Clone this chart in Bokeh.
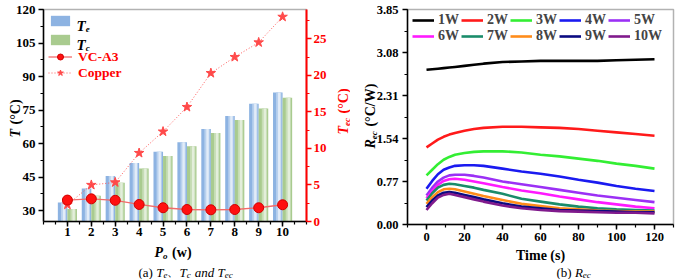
import math
from bokeh.plotting import figure
from bokeh.models import (Range1d, LinearAxis, FixedTicker, Label, Legend, LegendItem,
                          NumeralTickFormatter, BoxAnnotation)
from bokeh.layouts import row
from bokeh.embed import file_html
from bokeh.resources import INLINE

# ---------------- data: (a) ----------------
power_w = [1, 2, 3, 4, 5, 6, 7, 8, 9, 10]
te_c = [33.7, 40.0, 45.5, 51.4, 56.4, 60.6, 66.6, 72.4, 77.8, 82.9]
tc_c = [30.8, 36.7, 42.5, 48.9, 54.5, 58.8, 64.8, 70.6, 75.7, 80.5]
tec_vc_a3 = [2.93, 3.10, 2.90, 2.33, 1.88, 1.64, 1.60, 1.64, 1.88, 2.29]
tec_copper = [2.30, 5.00, 5.35, 9.37, 12.30, 15.66, 20.30, 22.50, 24.50, 28.00]
t_ticks = [30, 45, 60, 75, 90, 105, 120]
tec_ticks = [0, 5, 10, 15, 20, 25]

# ---------------- data: (b) ----------------
time_s = [0, 3, 6, 9, 12, 15, 20, 25, 30, 40, 50, 60, 70, 80, 90, 100, 110, 120]
rec_1w = [2.77, 2.78, 2.79, 2.80, 2.81, 2.82, 2.84, 2.86, 2.88, 2.91, 2.92, 2.93, 2.93, 2.93, 2.93, 2.94, 2.95, 2.96]
rec_2w = [1.38, 1.45, 1.52, 1.57, 1.61, 1.64, 1.68, 1.71, 1.73, 1.75, 1.75, 1.74, 1.73, 1.71, 1.68, 1.65, 1.62, 1.59]
rec_3w = [0.88, 0.98, 1.08, 1.16, 1.21, 1.25, 1.28, 1.30, 1.31, 1.31, 1.29, 1.25, 1.22, 1.18, 1.14, 1.09, 1.05, 1.00]
rec_4w = [0.64, 0.78, 0.90, 0.98, 1.02, 1.05, 1.06, 1.06, 1.05, 1.00, 0.95, 0.91, 0.86, 0.80, 0.75, 0.69, 0.64, 0.60]
rec_5w = [0.52, 0.66, 0.77, 0.84, 0.88, 0.89, 0.89, 0.87, 0.84, 0.77, 0.72, 0.67, 0.62, 0.57, 0.52, 0.48, 0.44, 0.40]
rec_6w = [0.47, 0.60, 0.71, 0.78, 0.81, 0.82, 0.80, 0.77, 0.74, 0.67, 0.61, 0.56, 0.50, 0.45, 0.40, 0.36, 0.32, 0.29]
rec_7w = [0.43, 0.56, 0.66, 0.71, 0.73, 0.72, 0.69, 0.66, 0.62, 0.55, 0.46, 0.41, 0.36, 0.32, 0.29, 0.27, 0.26, 0.25]
rec_8w = [0.37, 0.49, 0.58, 0.63, 0.64, 0.63, 0.59, 0.55, 0.51, 0.44, 0.37, 0.33, 0.29, 0.27, 0.25, 0.24, 0.23, 0.23]
rec_9w = [0.31, 0.43, 0.52, 0.57, 0.58, 0.57, 0.53, 0.49, 0.45, 0.38, 0.32, 0.29, 0.26, 0.25, 0.24, 0.23, 0.22, 0.22]
rec_10w = [0.26, 0.38, 0.48, 0.53, 0.55, 0.53, 0.49, 0.45, 0.41, 0.34, 0.29, 0.26, 0.24, 0.23, 0.22, 0.21, 0.21, 0.20]
rec_series = [("1W", rec_1w), ("2W", rec_2w), ("3W", rec_3w), ("4W", rec_4w), ("5W", rec_5w),
              ("6W", rec_6w), ("7W", rec_7w), ("8W", rec_8w), ("9W", rec_9w), ("10W", rec_10w)]
rec_colors = ["#000000", "#FF1A1A", "#33EE33", "#1A1AF0", "#9B30F5",
              "#FF1AFF", "#1A8C6A", "#FF8C1A", "#0A0A80", "#801A8C"]
rec_ticks = [0.00, 0.77, 1.54, 2.31, 3.08, 3.85]
time_ticks = [0, 20, 40, 60, 80, 100, 120]

FONT = "Liberation Serif"
H = 279

# approximate Times advance widths (em)
W_REG = {'(': .333, ')': .333, 'a': .444, 'b': .5, ' ': .25, '、': 1.0}
W_BOLD = {'(': .333, ')': .333, '°': .4, 'C': .722, '/': .278, 'W': 1.0, 'w': .722, ' ': .25,
          's': .389, 'T': .667, 'i': .278, 'm': .833, 'e': .444}
W_BI = {'T': .611, 'P': .611, 'R': .667, 'e': .444, 'c': .444, 'o': .5}
W_IT = {'T': .556, 'e': .444, 'c': .444, 'a': .5, 'n': .5, 'd': .5, 'R': .611, ' ': .25}
TABLES = {"normal": W_REG, "bold": W_BOLD, "bold italic": W_BI, "italic": W_IT}


def text_w(s, size, style):
    tb = TABLES[style]
    return sum(tb.get(ch, 0.5) for ch in s) * size


def rich(fig, x0, x, y, runs, angle=0.0):
    """place runs of text; x,y page coords of baseline start; x0 = page x of the figure's left edge."""
    pos = 0.0
    for txt, size, style, color, sub in runs:
        lead = len(txt) - len(txt.lstrip(" "))
        pos_run = pos + text_w(" " * lead, size, style) * 1.3
        body = txt.strip(" ")
        if angle == 0:
            px, py = x + pos_run, y + sub
        else:
            px, py = x + sub, y - pos_run
        if body:
            fig.add_layout(Label(x=px - x0, y=H - py, x_units="screen", y_units="screen", text=body,
                                 text_font=FONT, text_font_size=f"{size}px", text_font_style=style,
                                 text_color=color, text_align="left", text_baseline="alphabetic",
                                 angle=angle))
        pos = pos_run + text_w(txt.lstrip(" "), size, style)


def style_axis(ax, color, size, standoff, lw=1.5):
    ax.axis_line_color = color
    ax.axis_line_width = lw
    ax.major_tick_line_color = color
    ax.minor_tick_line_color = color
    ax.major_tick_line_width = 1.5
    ax.minor_tick_line_width = 1.2
    ax.major_tick_in = 0
    ax.major_tick_out = 5
    ax.minor_tick_in = 0
    ax.minor_tick_out = 3
    ax.major_label_text_font = FONT
    ax.major_label_text_font_style = "bold"
    ax.major_label_text_font_size = size
    ax.major_label_text_color = color
    ax.major_label_standoff = standoff


def span_range(lo, hi, px_lo, px_hi, total, flip=False):
    """range over the whole canvas so that [lo, hi] falls on pixels [px_lo, px_hi]."""
    per = (hi - lo) / (px_hi - px_lo)
    if not flip:
        return Range1d(lo - px_lo * per, hi + (total - px_hi) * per)
    return Range1d(lo - (total - px_hi) * per, hi + px_lo * per)


def bare_figure(w, xr, yr):
    f = figure(width=w, height=H, x_range=xr, y_range=yr, output_backend="svg", toolbar_location=None,
               x_axis_location=None, y_axis_location=None, min_border=0)
    f.xgrid.visible = False
    f.ygrid.visible = False
    f.outline_line_color = None
    f.background_fill_color = "white"
    f.border_fill_color = "white"
    return f


def legend_at(items, left, top, height, **kw):
    """legend whose box top-left is at (left, top) in figure pixels (from top)."""
    return Legend(items=items, location=(left, H - (top + height)), margin=0,
                  background_fill_alpha=0, border_line_alpha=0, **kw)


# ---------------- figure (a) ----------------
W1 = 350
A_L, A_R, A_T, A_B = 43, 306, 9, 221          # plot box in page pixels
X_LO, X_HI = 0, 11
T_LO, T_HI = 25.2, 120
TEC_LO, TEC_HI = 0, 29
p1 = bare_figure(W1, span_range(X_LO, X_HI, A_L, A_R, W1), span_range(T_LO, T_HI, A_T, A_B, H, flip=True))
p1.extra_y_ranges = {"tec": span_range(TEC_LO, TEC_HI, A_T, A_B, H, flip=True)}

p1.add_layout(BoxAnnotation(left=X_LO, right=X_HI, bottom=T_LO, top=T_HI, fill_alpha=0,
                            line_color="black", line_width=1.5, level="underlay"))

ax_b = LinearAxis(fixed_location=T_LO, bounds=(X_LO, X_HI),
                  ticker=FixedTicker(ticks=power_w, minor_ticks=[i * 0.5 for i in range(0, 23)]))
style_axis(ax_b, "black", "13px", 1)
p1.add_layout(ax_b, "below")
ax_l = LinearAxis(fixed_location=X_LO, bounds=(T_LO, T_HI),
                  ticker=FixedTicker(ticks=t_ticks, minor_ticks=[30 + 7.5 * i for i in range(13)]))
style_axis(ax_l, "black", "13px", 3)
p1.add_layout(ax_l, "left")
ax_r = LinearAxis(y_range_name="tec", fixed_location=X_HI, bounds=(TEC_LO, TEC_HI),
                  ticker=FixedTicker(ticks=tec_ticks, minor_ticks=[2.5 * i for i in range(12)]))
style_axis(ax_r, "#FF0000", "13px", 2, lw=2)
p1.add_layout(ax_r, "right")

# bars with a simple faux gradient
bw = 0.4
xe = [x - 0.2 for x in power_w]
xc = [x + 0.2 for x in power_w]
r_te = p1.vbar(x=xe, top=te_c, bottom=T_LO, width=bw, fill_color="#8DB3E2", line_color=None)
p1.vbar(x=[x + 0.04 for x in xe], top=te_c, bottom=T_LO, width=bw * 0.55, fill_color="#B9D1EE", line_color=None)
p1.vbar(x=[x + 0.06 for x in xe], top=te_c, bottom=T_LO, width=bw * 0.25, fill_color="#E2ECF8", line_color=None)
r_tc = p1.vbar(x=xc, top=tc_c, bottom=T_LO, width=bw, fill_color="#A9CB8F", line_color=None)
p1.vbar(x=[x + 0.04 for x in xc], top=tc_c, bottom=T_LO, width=bw * 0.55, fill_color="#C6DDB5", line_color=None)
p1.vbar(x=[x + 0.06 for x in xc], top=tc_c, bottom=T_LO, width=bw * 0.25, fill_color="#E3EEDB", line_color=None)

r_cu_l = p1.line(power_w, tec_copper, y_range_name="tec", line_color="#FF5A5A", line_width=1, line_dash="1 2")
r_cu_s = p1.scatter(power_w, tec_copper, y_range_name="tec", marker="star", size=10,
                    fill_color="#FF4A4A", line_color="#FF4A4A")
r_vc_l = p1.line(power_w, tec_vc_a3, y_range_name="tec", line_color="#F26B6B", line_width=1.3)
r_vc_s = p1.scatter(power_w, tec_vc_a3, y_range_name="tec", marker="circle", size=10,
                    fill_color="#FF1010", line_color="#D00000", line_width=1)

# legend rows: Te centre y~20.5, Tc ~39, VC-A3 58, Copper 73 (page pixels)
leg_a1 = legend_at([LegendItem(label=" ", renderers=[r_te]), LegendItem(label=" ", renderers=[r_tc])],
                   A_L, 8, 44, padding=5, spacing=4, glyph_width=24, glyph_height=13,
                   label_height=15, label_standoff=4, label_text_font_size="8px")
leg_a2 = legend_at([LegendItem(label="VC-A3", renderers=[r_vc_l, r_vc_s]),
                    LegendItem(label="Copper", renderers=[r_cu_l, r_cu_s])],
                   A_L, 45.5, 40, padding=5, spacing=0, glyph_width=24, glyph_height=15,
                   label_height=15, label_standoff=6,
                   label_text_font=FONT, label_text_font_style="bold", label_text_font_size="13.5px",
                   label_text_color="#FF0000")
p1.add_layout(leg_a1)
p1.add_layout(leg_a2)

rich(p1, 0, 76, 25.5, [("T", 15, "bold italic", "black", 0), ("e", 9, "bold italic", "black", 3)])
rich(p1, 0, 76, 44, [("T", 15, "bold italic", "black", 0), ("c", 9, "bold italic", "black", 3)])
rich(p1, 0, 154, 252, [("P", 14, "bold italic", "black", 0), ("o", 9, "bold italic", "black", 3),
                       (" (w)", 14, "bold", "black", 0)])
rich(p1, 0, 15, 137, [("T", 14, "bold italic", "black", 0), (" (°C)", 14, "bold", "black", 0)],
     angle=math.pi / 2)
rich(p1, 0, 343, 134, [("T", 14, "bold italic", "#FF0000", 0), ("ec", 9, "bold italic", "#FF0000", 3),
                       (" (°C)", 14, "bold", "#FF0000", 0)], angle=math.pi / 2)
rich(p1, 0, 138, 271.5, [("(a) ", 13, "normal", "black", 0), ("T", 13, "italic", "black", 0),
                         ("e", 9, "italic", "black", 2.5), ("、", 12, "normal", "black", 0),
                         ("T", 13, "italic", "black", 0), ("c", 9, "italic", "black", 2.5),
                         (" and ", 13, "italic", "black", 0), ("T", 13, "italic", "black", 0),
                         ("ec", 9, "italic", "black", 2.5)])

# ---------------- figure (b) ----------------
W2 = 685 - W1
B_L, B_R, B_T, B_B = 407 - W1, 673 - W1, 9, 224   # plot box, pixels within figure (b)
TS_LO, TS_HI = -10, 130
R_LO, R_HI = 0, 3.85
p2 = bare_figure(W2, span_range(TS_LO, TS_HI, B_L, B_R, W2), span_range(R_LO, R_HI, B_T, B_B, H, flip=True))
p2.add_layout(BoxAnnotation(left=TS_LO, right=TS_HI, bottom=R_LO, top=R_HI, fill_alpha=0,
                            line_color="black", line_width=1.5, level="underlay"))
bx = LinearAxis(fixed_location=R_LO, bounds=(TS_LO, TS_HI),
                ticker=FixedTicker(ticks=time_ticks, minor_ticks=[-10 + 10 * i for i in range(15)]))
style_axis(bx, "black", "12.5px", 3)
p2.add_layout(bx, "below")
by = LinearAxis(fixed_location=TS_LO, bounds=(R_LO, R_HI),
                ticker=FixedTicker(ticks=rec_ticks, minor_ticks=[0.385 * i for i in range(11)]),
                formatter=NumeralTickFormatter(format="0.00"))
style_axis(by, "black", "12.5px", 4)
p2.add_layout(by, "left")

rend = []
for (name, ys), col in zip(rec_series, rec_colors):
    r = p2.line(time_s, ys, line_color=col, line_width=2.6, line_join="round")
    rend.append((name, r))

common = dict(orientation="horizontal", padding=0, spacing=2, glyph_width=22, glyph_height=16,
              label_height=16, label_standoff=4,
              label_text_font=FONT, label_text_font_style="bold", label_text_font_size="14px")
leg_b1 = legend_at([LegendItem(label=n, renderers=[r]) for n, r in rend[:5]], B_L + 5, 12, 16, **common)
leg_b2 = legend_at([LegendItem(label=n, renderers=[r]) for n, r in rend[5:]], B_L + 5, 28, 16, **common)
p2.add_layout(leg_b1)
p2.add_layout(leg_b2)

rich(p2, W1, 515.5, 254.5, [("Time (s)", 14, "bold", "black", 0)])
rich(p2, W1, 370, 148, [("R", 14, "bold italic", "black", 0), ("ec", 9, "bold italic", "black", 3),
                        (" (°C/W)", 14, "bold", "black", 0)], angle=math.pi / 2)
rich(p2, W1, 556, 271.5, [("(b) ", 13, "normal", "black", 0), ("R", 13, "italic", "black", 0),
                          ("ec", 9, "italic", "black", 2.5)])

layout = row(p1, p2, styles={"position": "absolute", "left": "0px", "top": "0px"})
open("out.html", "w").write(file_html(layout, INLINE))
